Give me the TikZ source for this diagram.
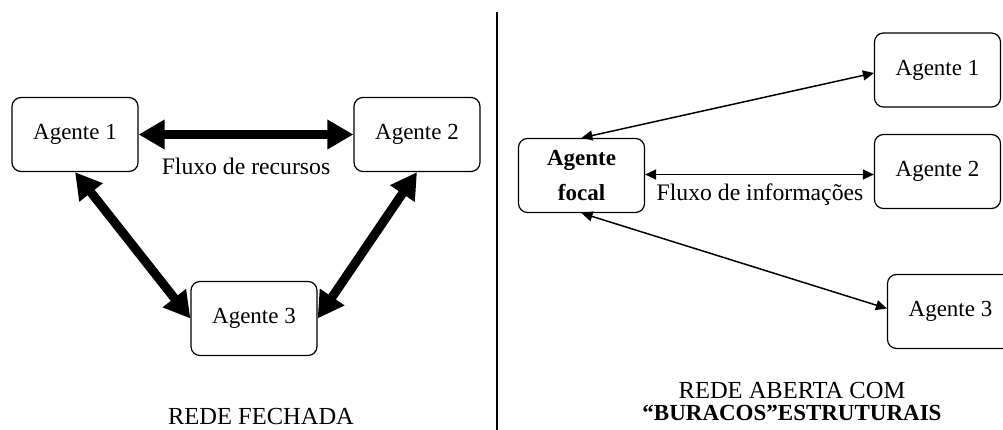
\documentclass[tikz,border=0pt]{standalone}
\usepackage{fontspec}
\setmainfont{Liberation Serif}
\usetikzlibrary{arrows.meta}

\begin{document}
\begin{tikzpicture}[x=1pt,y=-1pt,
  agent/.style={draw, line width=1.2pt, rounded corners=9pt,
    minimum width=126pt, minimum height=74pt, inner sep=0pt,
    font=\fontsize{23}{27}\selectfont},
  heavyflow/.style={line width=9pt,
    {Triangle[length=26pt,width=28pt]}-{Triangle[length=26pt,width=28pt]}},
  lightflow/.style={line width=1.5pt,
    {Triangle[length=11pt,width=10pt]}-{Triangle[length=11pt,width=10pt]}},
  flowlabel/.style={font=\fontsize{23.7}{27}\selectfont, inner sep=0pt},
  caption/.style={font=\fontsize{24.5}{27}\selectfont, inner sep=0pt, anchor=base}]
  \useasboundingbox (0,0) rectangle (1003,430);

  % closed network
  \node[agent] (a1) at (75,134.5) {Agente 1};
  \node[agent] (a2) at (417,134.5) {Agente 2};
  \node[agent] (a3) at (254,318.5) {Agente 3};
  \draw[heavyflow] (a1.east) -- (a2.west);
  \draw[heavyflow] (a1.south) -- (a3.west);
  \draw[heavyflow] (a2.south) -- (a3.east);
  \node[flowlabel] (fr) at (246,166) {Fluxo de recursos};
  \node[caption] (closed) at (261,424) {REDE FECHADA};

  % divider
  \coordinate (dtop) at (497,12);
  \coordinate (dbot) at (497,430);
  \draw[line width=1.2pt] (dtop) -- (dbot);

  % open network with structural holes
  \begin{scope}
    \clip (500,0) rectangle (1003,430);
    \node[agent, align=center, font=\fontsize{23}{35}\selectfont\bfseries]
      (focal) at (581.5,175.5) {Agente\\focal};
    \node[agent] (b1) at (937.5,70) {Agente 1};
    \node[agent] (b2) at (937.5,171.5) {Agente 2};
    \node[agent] (b3) at (950.5,311.5) {Agente 3};
  \end{scope}
  \coordinate (fe) at ([yshift=1pt]focal.east);
  \draw[lightflow] (focal.north) -- ([yshift=-3pt]b1.west);
  \draw[lightflow] (fe) -- (fe -| b2.west);
  \draw[lightflow] (focal.south) -- ([yshift=3pt]b3.west);
  \node[flowlabel] (fi) at (760,195) {Fluxo de informações};
  \node[caption, text depth=0pt] (open1) at (792,398) {REDE ABERTA COM};
  \node[caption, font=\fontsize{23}{27}\selectfont\bfseries, text height=16pt]
    (open2) at (792,420) {“BURACOS”ESTRUTURAIS};
\end{tikzpicture}
\end{document}
